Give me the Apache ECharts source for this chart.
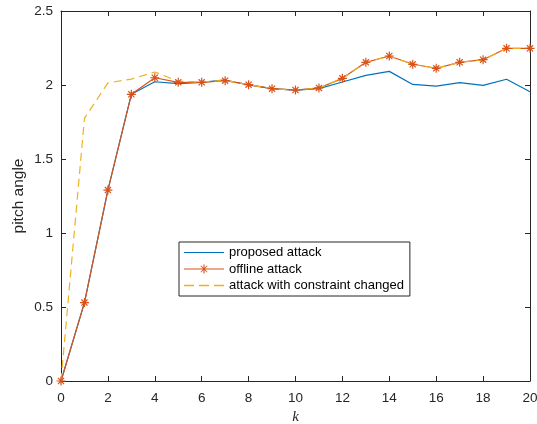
<!DOCTYPE html>
<html>
<head>
<meta charset="utf-8">
<script src="https://cdn.jsdelivr.net/npm/echarts@6/dist/echarts.min.js"></script>
<style>html,body{margin:0;padding:0;background:#fff;}#c{width:537px;height:424px;}</style>
</head>
<body>
<div id="c"></div>
<script>
var k = [0,1,2,3,4,5,6,7,8,9,10,11,12,13,14,15,16,17,18,19,20];
var proposed = [0,0.53,1.29,1.937,2.022,2.009,2.018,2.034,2.0,1.975,1.966,1.975,2.02,2.065,2.092,2.004,1.993,2.016,1.998,2.039,1.955];
var offline = [0,0.53,1.29,1.937,2.049,2.018,2.018,2.029,2.002,1.975,1.966,1.98,2.045,2.153,2.196,2.14,2.113,2.153,2.171,2.248,2.248];
var changed = [0,1.775,2.014,2.04,2.088,2.025,2.02,2.032,2.002,1.975,1.966,1.98,2.045,2.153,2.196,2.14,2.113,2.153,2.171,2.248,2.248];
var seriesNames = ['proposed attack','offline attack','attack with constraint changed'];

function pairs(v){ return k.map(function(x,i){ return [x, v[i]]; }); }
var axisColor = '#262626';
var font = '"Liberation Sans", Arial, Helvetica, sans-serif';
var asterisk = 'path://M0,5L10,5M5,0L5,10M1.6,1.6L8.4,8.4M8.4,1.6L1.6,8.4';
var solidIcon = 'path://M0,0h40v1.2h-40z';
var dashIcon = 'path://M0,0h10v1.3h-10zM15,0h10v1.3h-10zM30,0h10v1.3h-10z';
var markIcon = 'path://M0,4h40v1.1h-40zM19.45,0h1.1v9h-1.1zM16.5,1.6L17.1,1L23.5,7.4L22.9,8zM23.5,1.6L17.1,8L16.5,7.4L22.9,1z';

var chart = echarts.init(document.getElementById('c'), null, {renderer:'canvas'});
chart.setOption({
  backgroundColor: '#ffffff',
  animation: false,
  grid: {left: 61, right: 7, top: 11, bottom: 43, show: false, containLabel: false, outerBoundsMode: 'none'},
  legend: {
    orient: 'vertical', left: 179, top: 242,
    padding: [4, 6, 4, 5], itemGap: 3.5, itemWidth: 40, itemHeight: 14,
    symbolKeepAspect: true,
    borderColor: axisColor, borderWidth: 1, backgroundColor: '#fff',
    textStyle: {fontFamily: font, fontSize: 13, color: '#000'},
    data: [
      {name: seriesNames[0], icon: solidIcon},
      {name: seriesNames[1], icon: markIcon, itemStyle: {borderWidth: 0}},
      {name: seriesNames[2], icon: dashIcon}
    ]
  },
  xAxis: [{
    type: 'value', min: 0, max: 20, interval: 2, position: 'bottom',
    name: 'k', nameLocation: 'middle', nameGap: 29, nameMoveOverlap: false,
    nameTextStyle: {fontFamily: 'Liberation Serif, serif', fontStyle: 'italic', fontSize: 15, color: axisColor},
    axisLine: {show: true, onZero: false, lineStyle: {color: axisColor, width: 1}},
    axisTick: {show: true, inside: true, length: 5, lineStyle: {color: axisColor}},
    axisLabel: {fontFamily: font, fontSize: 13.5, color: axisColor, margin: 10},
    splitLine: {show: false}
  },{
    type: 'value', min: 0, max: 20, interval: 2, position: 'top',
    axisLine: {show: true, onZero: false, lineStyle: {color: axisColor, width: 1}},
    axisTick: {show: true, inside: true, length: 5, lineStyle: {color: axisColor}},
    axisLabel: {show: false}, splitLine: {show: false}
  }],
  yAxis: [{
    type: 'value', min: 0, max: 2.5, interval: 0.5, position: 'left',
    name: 'pitch angle', nameLocation: 'middle', nameGap: 34, nameMoveOverlap: false,
    nameTextStyle: {fontFamily: font, fontSize: 15.5, color: axisColor},
    axisLine: {show: true, onZero: false, lineStyle: {color: axisColor, width: 1}},
    axisTick: {show: true, inside: true, length: 5, lineStyle: {color: axisColor}},
    axisLabel: {fontFamily: font, fontSize: 13.5, color: axisColor, margin: 8},
    splitLine: {show: false}
  },{
    type: 'value', min: 0, max: 2.5, interval: 0.5, position: 'right',
    axisLine: {show: true, onZero: false, lineStyle: {color: axisColor, width: 1}},
    axisTick: {show: true, inside: true, length: 5, lineStyle: {color: axisColor}},
    axisLabel: {show: false}, splitLine: {show: false}
  }],
  series: [{
    name: seriesNames[0], type: 'line', data: pairs(proposed),
    symbol: 'none', lineStyle: {color: '#0072BD', width: 1.2},
    itemStyle: {color: '#0072BD'}
  },{
    name: seriesNames[1], type: 'line', data: pairs(offline),
    symbol: asterisk, symbolSize: 9, showSymbol: true,
    lineStyle: {color: '#D95319', width: 1.2},
    itemStyle: {color: '#D95319', borderColor: '#D95319', borderWidth: 1.2}
  },{
    name: seriesNames[2], type: 'line', data: pairs(changed),
    symbol: 'none', lineStyle: {color: '#EDB120', width: 1.2, type: [8, 5]},
    itemStyle: {color: '#EDB120'}
  }]
});
</script>
</body>
</html>
